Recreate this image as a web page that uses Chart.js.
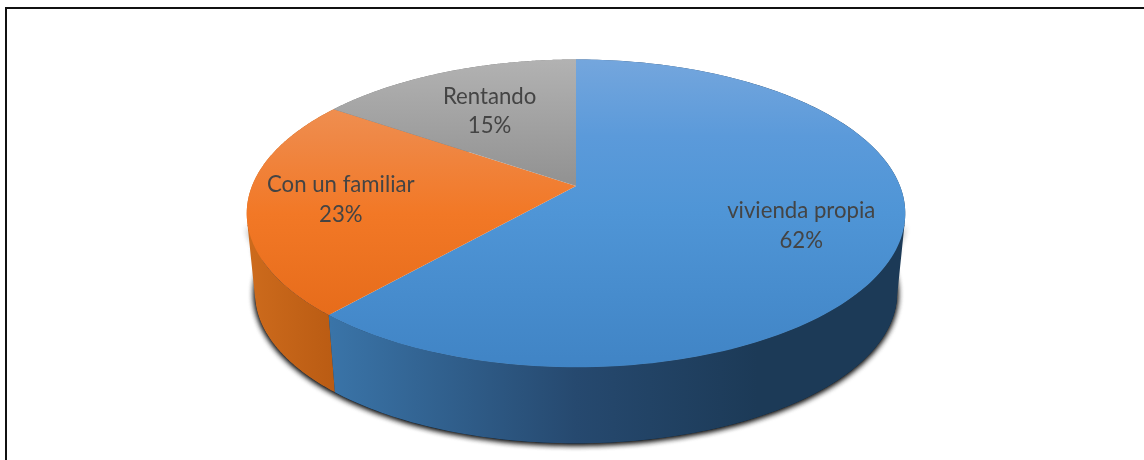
<!DOCTYPE html>
<html>
<head>
<meta charset="utf-8">
<title>Vivienda</title>
<script src="https://cdn.jsdelivr.net/npm/chart.js@4/dist/chart.umd.min.js"></script>
<style>
  html, body { margin:0; padding:0; background:#fff; overflow:hidden; }
  #wrap { position:relative; width:1144px; height:460px; }
  #frame { position:absolute; left:5px; top:7px; right:0; bottom:0; border-left:2px solid #111; border-top:2px solid #111; }
  canvas { position:absolute; left:0; top:0; }
</style>
</head>
<body>
<div id="wrap">
  <div id="frame"></div>
  <canvas id="pie" width="1144" height="460"></canvas>
</div>
<script>
const categories = ['vivienda propia', 'Con un familiar', 'Rentando'];
const shares = [61.5, 23.1, 15.4];

// top face colours, vertical: [stop, colour]
const topFills = [
  [[0,'#74a6dd'],[0.25,'#5b9ada'],[0.5,'#4f95d6'],[1,'#4084c5']],
  [[0,'#f0995f'],[0.25,'#ef8846'],[0.5,'#f27826'],[1,'#e16615']],
  [[0,'#b2b2b2'],[0.45,'#8e8e8e'],[1,'#8e8e8e']]
];
// wall colours, horizontal
const wallFills = [
  [[0.12,'#3a74a8'],[0.5,'#26496f'],[0.78,'#1c3a57'],[1,'#1c3a57']],
  [[0,'#cc6a1c'],[0.14,'#b85a12']],
  [[0,'#777777'],[1,'#777777']]
];
const labelRadius = [0.71, 0.72, 0.63];

// fake 3d view of the flat pie
const view = { tilt:0.46, persp:0.178, depth:80.5, shrink:0.975 };

function project(arc, angle, frac, lower){
  const s = lower ? view.shrink : 1;
  const sin = Math.sin(angle) * frac;
  const w = 1 - view.persp * sin;
  return {
    x: arc.x + arc.outerRadius * s * frac * Math.cos(angle) / w,
    y: arc.y + (lower ? view.depth : 0) + arc.outerRadius * s * view.tilt * sin / w
  };
}

function rim(ctx, arc, from, to, lower){
  const steps = 160;
  for(let i=0;i<=steps;i++){
    const p = project(arc, from + (to-from)*i/steps, 1, lower);
    ctx.lineTo(p.x, p.y);
  }
}

function gradient(ctx, x0, y0, x1, y1, stops){
  const g = ctx.createLinearGradient(x0, y0, x1, y1);
  stops.forEach(s=>g.addColorStop(s[0], s[1]));
  return g;
}

// one slice's wall, thin strips in a single path so the sides reach the upper rim
function wall(ctx, arc){
  const steps = 200;
  const da = (arc.endAngle-arc.startAngle)/steps;
  ctx.beginPath();
  for(let i=0;i<steps;i++){
    const a = arc.startAngle + i*da;
    let quad = [project(arc, a, 1, false), project(arc, a+da, 1, false), project(arc, a+da, 1, true), project(arc, a, 1, true)];
    // same winding for every strip, or they cancel out where they overlap
    let area = 0;
    quad.forEach((p,j)=>{ const n = quad[(j+1)%4]; area += p.x*n.y - n.x*p.y; });
    if(area < 0) quad = quad.reverse();
    ctx.moveTo(quad[0].x, quad[0].y);
    ctx.lineTo(quad[1].x, quad[1].y);
    ctx.lineTo(quad[2].x, quad[2].y);
    ctx.lineTo(quad[3].x, quad[3].y);
    ctx.closePath();
  }
  ctx.fill();
}

const tiltedPie = {
  id:'tiltedPie',
  beforeDatasetsDraw(chart){
    const ctx = chart.ctx;
    const arcs = chart.getDatasetMeta(0).data;
    const first = arcs[0];
    const top = project(first, -Math.PI/2, 1, false).y;
    const bottom = project(first, Math.PI/2, 1, false).y;
    const left = project(first, Math.PI, 1, false).x;
    const right = project(first, 0, 1, false).x;

    // soft shadow round the lower part, twice to get it dark enough
    ctx.save();
    ctx.shadowColor = 'rgba(0,0,0,0.95)';
    ctx.shadowBlur = 6;
    ctx.shadowOffsetY = 1;
    ctx.fillStyle = '#1c3a57';
    for(let n=0;n<2;n++){
      ctx.beginPath();
      rim(ctx, first, 0, Math.PI, true);
      rim(ctx, first, Math.PI-0.25, 0.25, false);
      ctx.closePath();
      ctx.fill();
    }
    ctx.restore();

    // walls, back slice first
    for(let i=arcs.length-1;i>=0;i--){
      ctx.fillStyle = gradient(ctx, left, 0, right, 0, wallFills[i]);
      wall(ctx, arcs[i]);
    }

    // top faces
    arcs.forEach((a,i)=>{
      ctx.fillStyle = gradient(ctx, 0, top, 0, bottom, topFills[i]);
      ctx.beginPath();
      ctx.moveTo(a.x, a.y);
      rim(ctx, a, a.startAngle, a.endAngle, false);
      ctx.closePath();
      ctx.fill();
    });

    // labels
    ctx.fillStyle = '#444444';
    ctx.font = '22.2px Lato';
    ctx.textAlign = 'center';
    ctx.textBaseline = 'middle';
    arcs.forEach((a,i)=>{
      const p = project(a, (a.startAngle+a.endAngle)/2, labelRadius[i], false);
      ctx.fillText(categories[i], p.x, p.y-14);
      ctx.fillText(Math.round(shares[i])+'%', p.x, p.y+15.5);
    });
    return false;
  }
};

new Chart(document.getElementById('pie'), {
  type:'pie',
  data:{ labels:categories, datasets:[{ data:shares, radius:324, borderWidth:0 }] },
  options:{
    responsive:false,
    animation:false,
    layout:{ padding:{ left:8, bottom:88 } },
    plugins:{ legend:{ display:false }, tooltip:{ enabled:false } }
  },
  plugins:[tiltedPie]
});
</script>
</body>
</html>
